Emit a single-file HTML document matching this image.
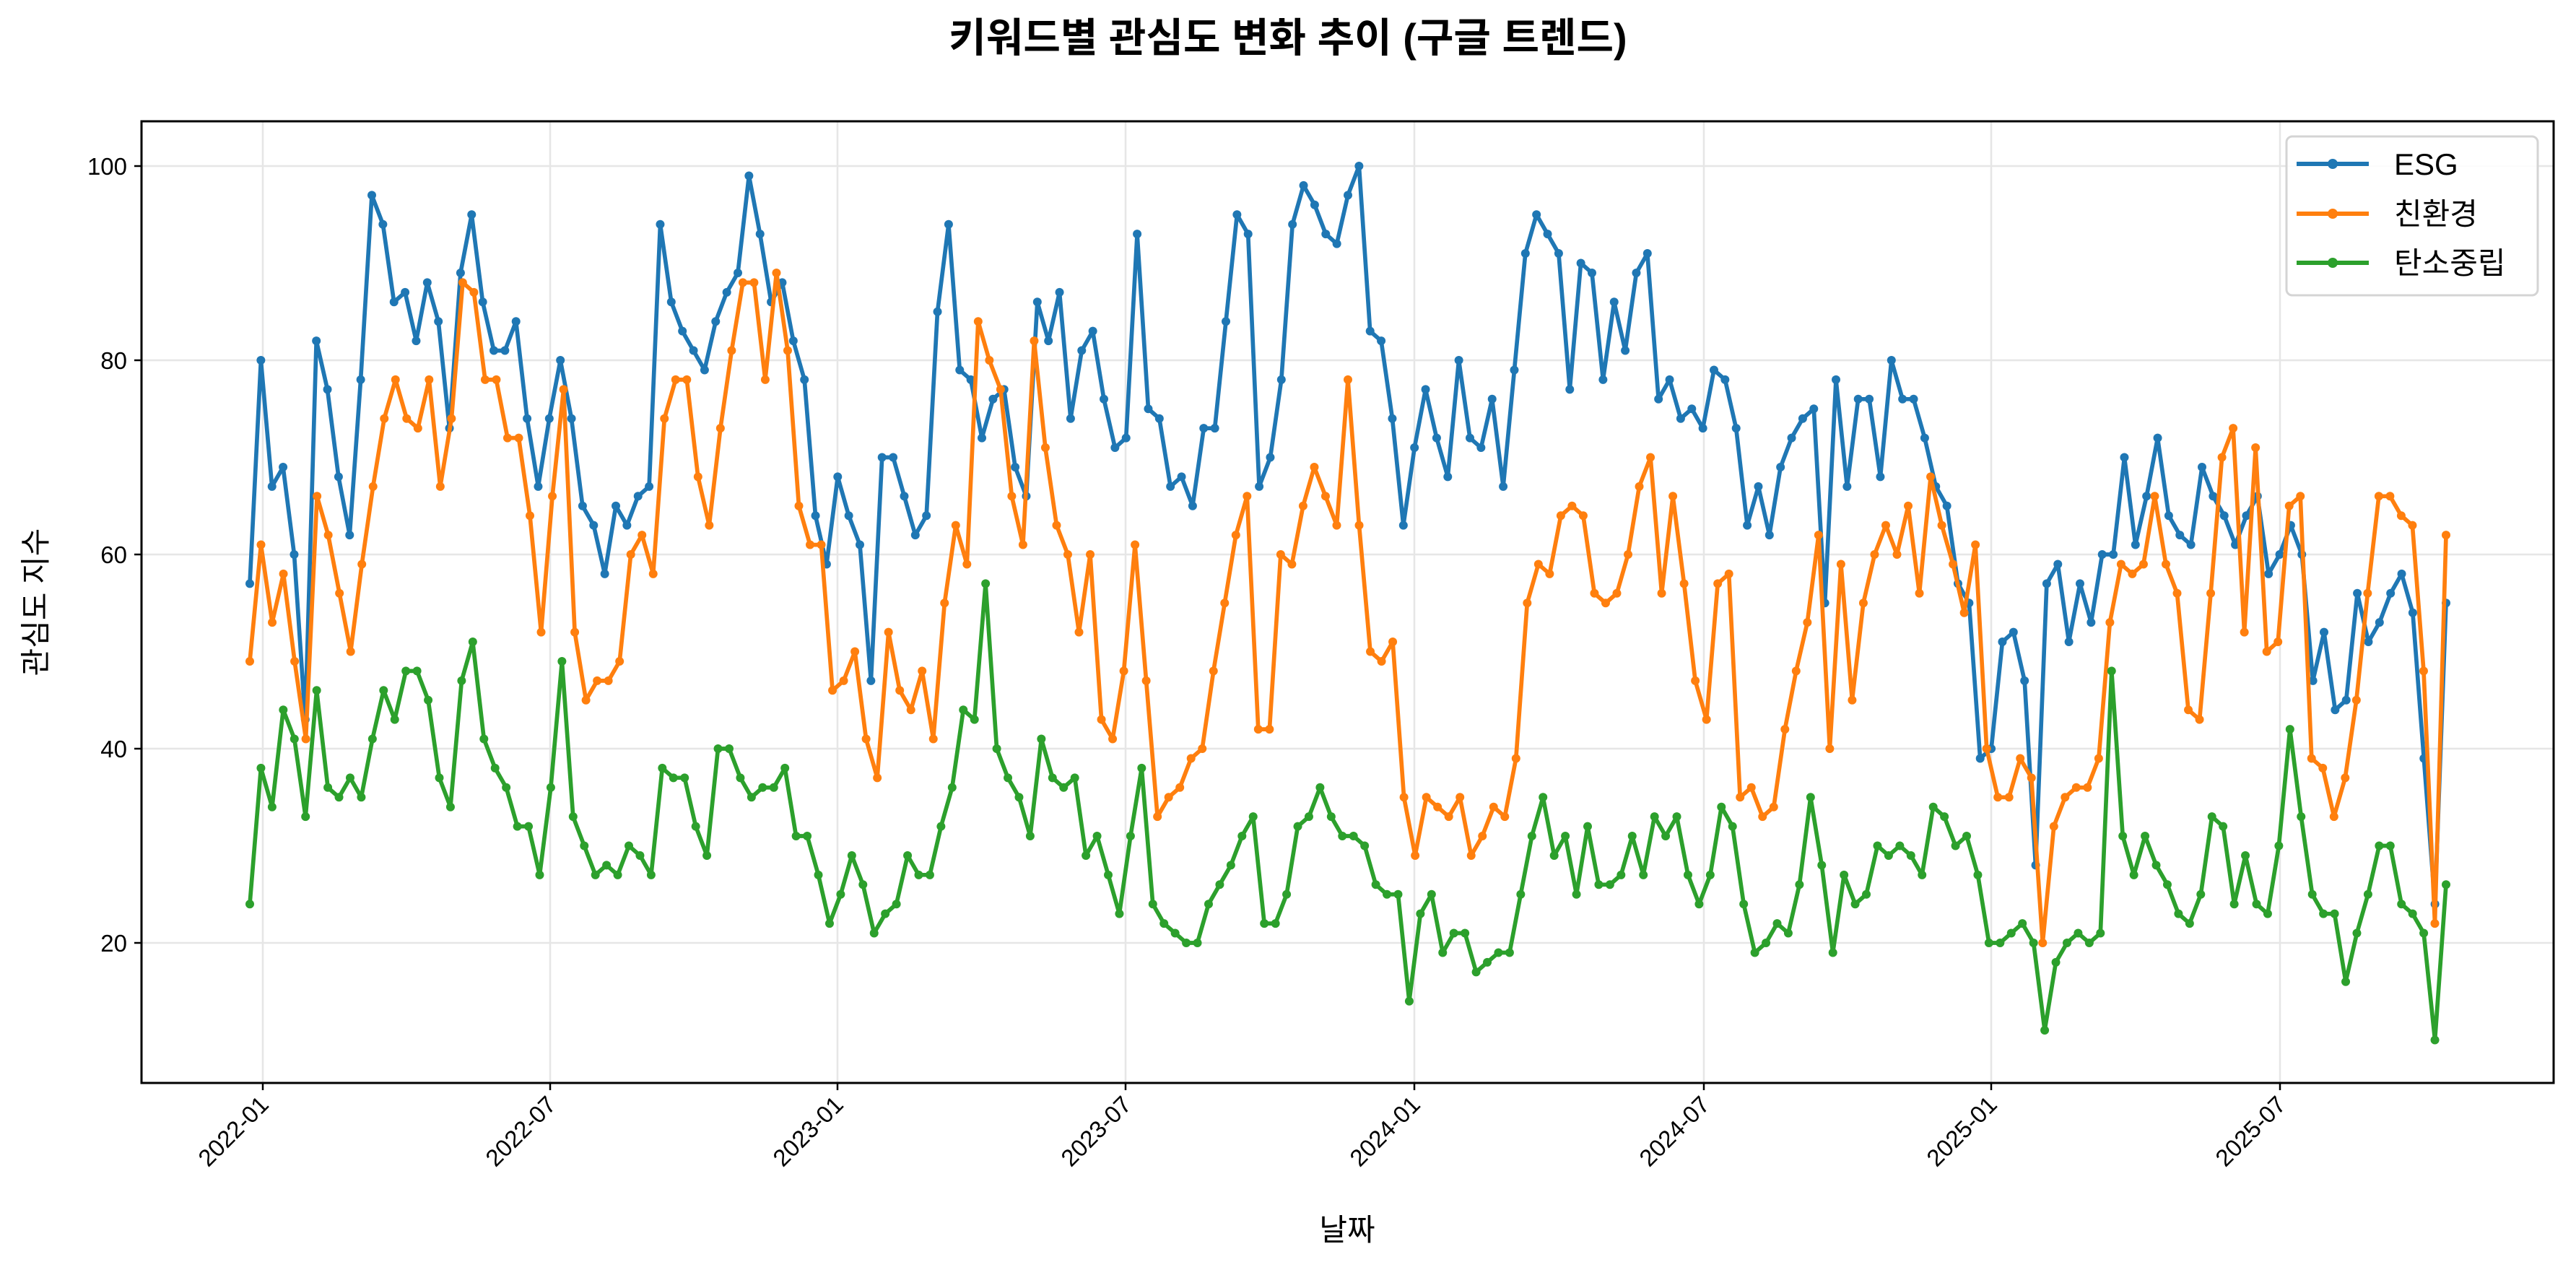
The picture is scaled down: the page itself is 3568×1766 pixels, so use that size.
<!DOCTYPE html>
<html><head><meta charset="utf-8"><style>
html,body{margin:0;padding:0;background:#fff;}
svg{display:block;font-family:"Liberation Sans","Noto Sans CJK KR","NanumGothic",sans-serif;}
</style></head><body>
<svg id="c" width="3568" height="1766" viewBox="0 0 3568 1766" xmlns="http://www.w3.org/2000/svg">
<rect width="3568" height="1766" fill="#fff"/>
<g id="grid" stroke="#e6e6e6" stroke-width="2.5"></g>
<g id="series"></g>
<rect x="196" y="168" width="3341" height="1332" fill="none" stroke="#000" stroke-width="3"/>
<g id="ticks" font-size="33" fill="#000"></g>
<text x="1784" y="72" text-anchor="middle" font-size="56" font-weight="bold">키워드별 관심도 변화 추이 (구글 트렌드)</text>
<text x="1866" y="1718" text-anchor="middle" font-size="42">날짜</text>
<text transform="translate(64,834) rotate(-90)" text-anchor="middle" font-size="42">관심도 지수</text>
<g>
<rect x="3167" y="189" width="348" height="220" rx="8" fill="#fff" fill-opacity="0.85" stroke="#d4d4d4" stroke-width="3"/>
<line x1="3181" y1="227" x2="3281" y2="227" stroke="#1f77b4" stroke-width="6"/><circle cx="3231" cy="227" r="7" fill="#1f77b4"/>
<text x="3316" y="242" font-size="42">ESG</text>
<line x1="3181" y1="296" x2="3281" y2="296" stroke="#ff7f0e" stroke-width="6"/><circle cx="3231" cy="296" r="7" fill="#ff7f0e"/>
<text x="3316" y="311" font-size="42">친환경</text>
<line x1="3181" y1="364" x2="3281" y2="364" stroke="#2ca02c" stroke-width="6"/><circle cx="3231" cy="364" r="7" fill="#2ca02c"/>
<text x="3316" y="379" font-size="42">탄소중립</text>
</g>
</svg>
<script>
var NS="http://www.w3.org/2000/svg";
function el(t,a,p){var e=document.createElementNS(NS,t);for(var k in a)e.setAttribute(k,a[k]);p.appendChild(e);return e;}
var grid=document.getElementById('grid'),ticks=document.getElementById('ticks'),ser=document.getElementById('series');
function Y(v){return 1306-(v-20)*13.45;}
[20,40,60,80,100].forEach(function(v){var y=Y(v);el('line',{x1:196,x2:3537,y1:y,y2:y},grid);
 el('line',{x1:186,x2:196,y1:y,y2:y,stroke:'#000','stroke-width':2.5},ticks);
 var t=el('text',{x:176,y:y+12,'text-anchor':'end'},ticks);t.textContent=v;});
var xs=[364,762,1160,1559,1959,2360,2758,3158],labs=['2022-01','2022-07','2023-01','2023-07','2024-01','2024-07','2025-01','2025-07'];
xs.forEach(function(x,i){el('line',{x1:x,x2:x,y1:168,y2:1500},grid);
 el('line',{x1:x,x2:x,y1:1500,y2:1510,stroke:'#000','stroke-width':2.5},ticks);
 var t=el('text',{x:x+10,y:1532,'text-anchor':'end',transform:'rotate(-45 '+(x+10)+' 1532)'},ticks);t.textContent=labs[i];});
var esg=[57,80,67,69,60,43,82,77,68,62,78,97,94,86,87,82,88,84,73,89,95,86,81,81,84,74,67,74,80,74,65,63,58,65,63,66,67,94,86,83,81,79,84,87,89,99,93,86,88,82,78,64,59,68,64,61,47,70,70,66,62,64,85,94,79,78,72,76,77,69,66,86,82,87,74,81,83,76,71,72,93,75,74,67,68,65,73,73,84,95,93,67,70,78,94,98,96,93,92,97,100,83,82,74,63,71,77,72,68,80,72,71,76,67,79,91,95,93,91,77,90,89,78,86,81,89,91,76,78,74,75,73,79,78,73,63,67,62,69,72,74,75,55,78,67,76,76,68,80,76,76,72,67,65,57,55,39,40,51,52,47,28,57,59,51,57,53,60,60,70,61,66,72,64,62,61,69,66,64,61,64,66,58,60,63,60,47,52,44,45,56,51,53,56,58,54,39,24,55];
var env=[49,61,53,58,49,41,66,62,56,50,59,67,74,78,74,73,78,67,74,88,87,78,78,72,72,64,52,66,77,52,45,47,47,49,60,62,58,74,78,78,68,63,73,81,88,88,78,89,81,65,61,61,46,47,50,41,37,52,46,44,48,41,55,63,59,84,80,77,66,61,82,71,63,60,52,60,43,41,48,61,47,33,35,36,39,40,48,55,62,66,42,42,60,59,65,69,66,63,78,63,50,49,51,35,29,35,34,33,35,29,31,34,33,39,55,59,58,64,65,64,56,55,56,60,67,70,56,66,57,47,43,57,58,35,36,33,34,42,48,53,62,40,59,45,55,60,63,60,65,56,68,63,59,54,61,40,35,35,39,37,20,32,35,36,36,39,53,59,58,59,66,59,56,44,43,56,70,73,52,71,50,51,65,66,39,38,33,37,45,56,66,66,64,63,48,22,62];
var cn=[24,38,34,44,41,33,46,36,35,37,35,41,46,43,48,48,45,37,34,47,51,41,38,36,32,32,27,36,49,33,30,27,28,27,30,29,27,38,37,37,32,29,40,40,37,35,36,36,38,31,31,27,22,25,29,26,21,23,24,29,27,27,32,36,44,43,57,40,37,35,31,41,37,36,37,29,31,27,23,31,38,24,22,21,20,20,24,26,28,31,33,22,22,25,32,33,36,33,31,31,30,26,25,25,14,23,25,19,21,21,17,18,19,19,25,31,35,29,31,25,32,26,26,27,31,27,33,31,33,27,24,27,34,32,24,19,20,22,21,26,35,28,19,27,24,25,30,29,30,29,27,34,33,30,31,27,20,20,21,22,20,11,18,20,21,20,21,48,31,27,31,28,26,23,22,25,33,32,24,29,24,23,30,42,33,25,23,23,16,21,25,30,30,24,23,21,10,26];
function draw(d,c){var n=d.length,pts=[];for(var i=0;i<n;i++){var x=346+i*(3388-346)/(n-1);pts.push([x,Y(d[i])]);}
 el('polyline',{points:pts.map(function(p){return p[0].toFixed(1)+','+p[1].toFixed(1)}).join(' '),fill:'none',stroke:c,'stroke-width':5.7,'stroke-linejoin':'round'},ser);
 pts.forEach(function(p){el('circle',{cx:p[0],cy:p[1],r:6,fill:c},ser);});}
draw(esg,'#1f77b4');draw(env,'#ff7f0e');draw(cn,'#2ca02c');
</script>
</body></html>
